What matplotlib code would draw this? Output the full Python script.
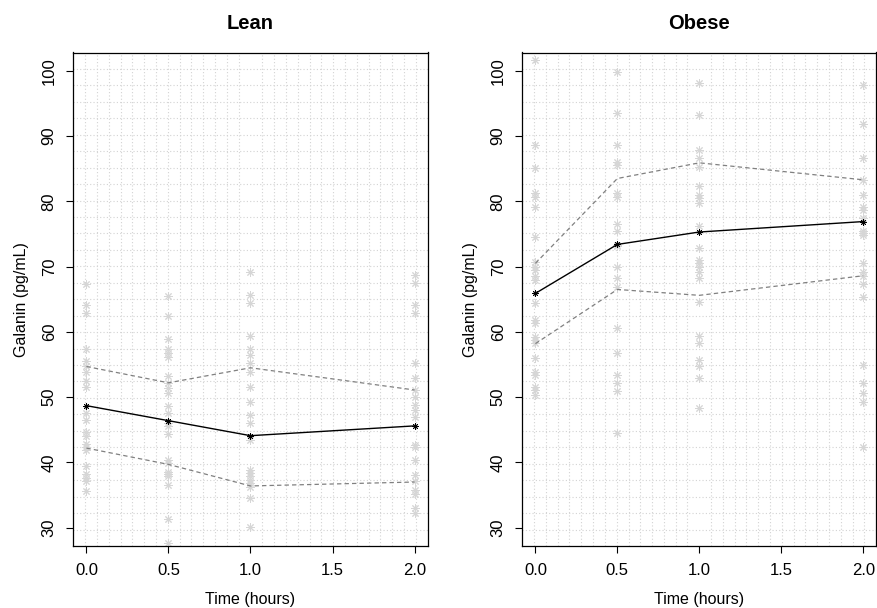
import numpy as np
import matplotlib
matplotlib.use("Agg")
import matplotlib.pyplot as plt

plt.rcParams["font.family"] = ["Liberation Sans", "DejaVu Sans"]

# --- DATA ---
times = [0.0, 0.5, 1.0, 2.0]

# Lean group, individual galanin values per time point
lean_t0 = [67.3, 64.1, 62.9, 57.4, 55.6, 54.8, 53.8, 52.5, 51.6, 47.6, 46.5,
           44.6, 44.0, 42.9, 42.4, 41.9, 39.4, 38.3, 37.6, 37.2, 35.7]
lean_t05 = [65.5, 62.5, 58.9, 57.4, 56.8, 56.1, 53.3, 52.1, 51.4, 50.7, 48.7,
            47.6, 46.0, 45.6, 44.4, 40.3, 39.9, 38.6, 38.3, 37.9, 36.5, 31.3, 27.7]
lean_t1 = [69.1, 65.7, 64.4, 59.3, 57.4, 56.5, 55.2, 53.9, 51.5, 49.2, 47.2,
           46.0, 43.4, 38.9, 38.4, 37.9, 37.3, 36.8, 36.3, 34.5, 30.1]
lean_t2 = [68.7, 67.5, 64.1, 62.9, 55.2, 52.9, 51.1, 50.1, 48.8, 48.1, 47.0,
           42.7, 42.4, 40.4, 38.1, 37.1, 35.8, 35.1, 33.0, 32.2]

lean_mean = [48.7, 46.4, 44.1, 45.6]
lean_upper = [54.7, 52.2, 54.5, 51.1]
lean_lower = [42.2, 39.7, 36.4, 37.0]

# Obese group
obese_t0 = [101.6, 88.7, 85.1, 81.3, 80.7, 79.2, 74.6, 70.7, 70.0, 69.5, 68.5,
            68.0, 64.4, 61.8, 61.4, 59.2, 58.8, 58.3, 56.0, 53.9, 53.4, 51.6,
            51.1, 50.3]
obese_t05 = [99.8, 93.5, 88.6, 86.1, 85.6, 81.2, 80.7, 76.6, 75.4, 73.3, 73.1,
             70.0, 68.3, 66.9, 60.6, 56.7, 53.4, 52.1, 50.9, 44.5]
obese_t1 = [98.2, 93.2, 87.9, 86.6, 85.3, 82.3, 81.0, 80.5, 79.7, 76.2, 72.9,
            71.0, 70.5, 69.9, 69.1, 68.3, 64.6, 59.3, 58.3, 55.7, 54.7, 52.9, 48.3]
obese_t2 = [97.8, 91.8, 86.6, 83.3, 81.0, 79.2, 78.7, 77.4, 75.4, 75.1, 74.8,
            70.5, 69.2, 68.6, 67.4, 65.4, 54.9, 52.1, 50.6, 49.3, 42.4]

obese_mean = [65.9, 73.4, 75.3, 76.9]
obese_upper = [70.5, 83.5, 85.9, 83.3]
obese_lower = [58.2, 66.5, 65.6, 68.6]

y_ticks = [30, 40, 50, 60, 70, 80, 90, 100]
x_ticks = [0.0, 0.5, 1.0, 1.5, 2.0]


## PLOTTING
W, H = 877, 608
fig = plt.figure(figsize=(W / 100, H / 100), dpi=100)

XLIM = (-0.08, 2.08)
YLIM = (27.2, 102.8)
STAR = (8, 2, 0)  # R-style pch 8 asterisk


def draw_panel(ax, title, cols, mean, upper, lower):
    ax.set_xlim(*XLIM)
    ax.set_ylim(*YLIM)

    # dotted grid, 30 cells each way like R's grid(30, 30)
    ax.set_xticks(np.linspace(XLIM[0], XLIM[1], 31)[1:-1], minor=True)
    ax.set_yticks(np.linspace(YLIM[0], YLIM[1], 31)[1:-1], minor=True)
    ax.grid(which="minor", color="#d3d3d3", linestyle=(0, (1, 2)), linewidth=0.8)
    ax.tick_params(which="minor", length=0)
    ax.set_axisbelow(True)

    for t, vals in zip(times, cols):
        ax.plot([t] * len(vals), vals, linestyle="none", marker=STAR,
                markersize=6, markeredgewidth=0.7, color="#d6d6d6", zorder=2)

    ax.plot(times, upper, color="#808080", linestyle=(0, (3.5, 2.5)), linewidth=0.9, zorder=3)
    ax.plot(times, lower, color="#808080", linestyle=(0, (3.5, 2.5)), linewidth=0.9, zorder=3)
    ax.plot(times, mean, color="black", linewidth=1.0, marker=STAR,
            markersize=4.5, markeredgewidth=0.6, zorder=4)

    ax.set_xticks(x_ticks)
    ax.set_xticklabels([f"{v:.1f}" for v in x_ticks])
    ax.set_yticks(y_ticks)
    ax.set_yticklabels([str(v) for v in y_ticks], rotation=90, va="center")
    ax.tick_params(which="major", direction="out", length=5, width=0.8,
                   labelsize=12, pad=7, colors="black")
    for s in ax.spines.values():
        s.set_linewidth(0.9)
        s.set_color("black")

    ax.set_title(title, fontsize=14.5, fontweight="bold", pad=17)
    ax.set_xlabel("Time (hours)", fontsize=11.5, labelpad=10)
    ax.set_ylabel("Galanin (pg/mL)", fontsize=11.5, labelpad=9)


ax1 = fig.add_axes([73.3 / W, 62 / H, 354.4 / W, 493.5 / H])
draw_panel(ax1, "Lean", [lean_t0, lean_t05, lean_t1, lean_t2],
           lean_mean, lean_upper, lean_lower)

ax2 = fig.add_axes([522.3 / W, 62 / H, 354.0 / W, 493.5 / H])
draw_panel(ax2, "Obese", [obese_t0, obese_t05, obese_t1, obese_t2],
           obese_mean, obese_upper, obese_lower)

plt.savefig("out.png", dpi=100)
